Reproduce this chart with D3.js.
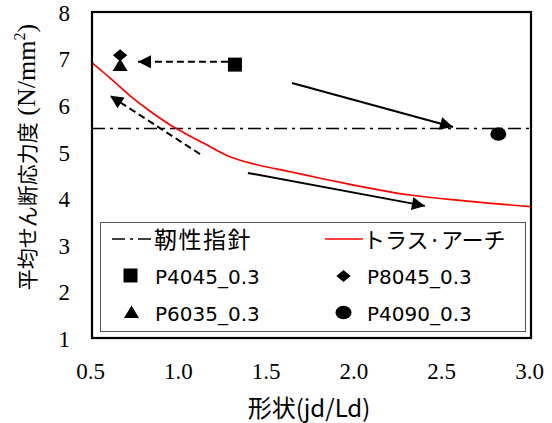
<!DOCTYPE html>
<html><head><meta charset="utf-8">
<script src="https://cdn.jsdelivr.net/npm/d3@7"></script>
<style>body{margin:0;background:#fff}svg{display:block}</style>
</head><body><svg id="c" width="552" height="423"></svg>
<script>
// ---- data ----
const xTicks = [0.5, 1.0, 1.5, 2.0, 2.5, 3.0];
const yTicks = [1, 2, 3, 4, 5, 6, 7, 8];
const trussX = [0.5, 0.603, 0.717, 0.831, 0.944, 1.018, 1.132, 1.286, 1.44, 1.628, 1.8, 1.97, 2.311, 2.636, 3.0];
const trussY = [6.91, 6.58, 6.20, 5.87, 5.58, 5.42, 5.19, 4.89, 4.72, 4.57, 4.43, 4.30, 4.07, 3.94, 3.82];
const toughness = 5.5;
const seriesNames = ["P4045_0.3", "P8045_0.3", "P6035_0.3", "P4090_0.3"];
const seriesX = [1.314, 0.66, 0.66, 2.814];
const seriesY = [6.87, 7.07, 6.86, 5.38];
const seriesShape = ["square", "diamond", "triangle", "circle"];
// arrows: from (x1,y1) to (x2,y2)
const arrowX1 = [1.274, 1.115, 1.639, 1.388];
const arrowY1 = [6.93, 4.95, 6.476, 4.545];
const arrowX2 = [0.762, 0.603, 2.556, 2.396];
const arrowY2 = [6.93, 6.2, 5.53, 3.837];
const arrowDashed = [true, true, false, false];

const svg = d3.select("#c");
const L = 92, R = 531, T = 12, B = 338;
const x = d3.scaleLinear().domain([0.5, 3.0]).range([L, R]);
const y = d3.scaleLinear().domain([1, 8]).range([B, T]);
const serif = "'Liberation Serif', 'DejaVu Serif', serif";
const lf = "'DejaVu Sans', 'Noto Sans CJK JP', sans-serif";
const jf = "'Noto Sans CJK JP', sans-serif";

const defs = svg.append("defs");
defs.append("marker").attr("id", "ah").attr("viewBox", "0 0 10 10")
  .attr("refX", 10).attr("refY", 5).attr("markerUnits", "userSpaceOnUse")
  .attr("markerWidth", 16).attr("markerHeight", 13).attr("orient", "auto")
  .append("path").attr("d", "M0,0 L10,5 L0,10 Z").attr("fill", "#000");
defs.append("clipPath").attr("id", "pc").append("rect")
  .attr("x", L).attr("y", T).attr("width", R - L).attr("height", B - T);

// axes (labels only, no tick marks)
const xAxis = d3.axisBottom(x).tickValues(xTicks).tickFormat(d3.format(".1f")).tickSize(0).tickPadding(25);
const gx = svg.append("g").attr("transform", `translate(-2,${B})`).call(xAxis);
gx.attr("font-family", serif);
gx.select(".domain").remove();
gx.selectAll("text").style("font-family", serif).style("font-size", "23px").attr("fill", "#000");

const yAxis = d3.axisLeft(y).tickValues(yTicks).tickFormat(d3.format("d")).tickSize(0).tickPadding(22);
const gy = svg.append("g").attr("transform", `translate(${L},1)`).call(yAxis);
gy.attr("font-family", serif);
gy.select(".domain").remove();
gy.selectAll("text").style("font-family", serif).style("font-size", "23px").attr("fill", "#000");

const plot = svg.append("g").attr("clip-path", "url(#pc)");
plot.append("line").attr("x1", x(0.5)).attr("x2", x(3.0)).attr("y1", y(toughness)).attr("y2", y(toughness))
  .attr("stroke", "#000").attr("stroke-width", 1.6).attr("stroke-dasharray", "13,5,3,5");

const trussData = trussX.map((d, i) => [d, trussY[i]]);
plot.append("path").datum(trussData)
  .attr("d", d3.line().x(d => x(d[0])).y(d => y(d[1])).curve(d3.curveMonotoneX))
  .attr("fill", "none").attr("stroke", "#ff0000").attr("stroke-width", 1.7);

arrowX1.forEach((d, i) => {
  svg.append("line").attr("x1", x(d)).attr("y1", y(arrowY1[i])).attr("x2", x(arrowX2[i])).attr("y2", y(arrowY2[i]))
    .attr("stroke", "#000").attr("stroke-width", 2)
    .attr("stroke-dasharray", arrowDashed[i] ? "7,4" : null)
    .attr("marker-end", "url(#ah)");
});

const shapePath = {
  square: "M-7,-7 L7,-7 L7,7 L-7,7 Z",
  diamond: "M0,-6 L7.2,0 L0,6 L-7.2,0 Z",
  triangle: "M0,-6.5 L7.5,6 L-7.5,6 Z",
  circle: "M-8,0 A8,6.8 0 1,0 8,0 A8,6.8 0 1,0 -8,0 Z"
};
function sym(g, shape, cx, cy) {
  g.append("path").attr("d", shapePath[shape]).attr("transform", `translate(${cx},${cy})`).attr("fill", "#000");
}
seriesX.forEach((d, i) => sym(svg, seriesShape[i], x(d), y(seriesY[i])));

svg.append("rect").attr("x", L).attr("y", T).attr("width", R - L).attr("height", B - T)
  .attr("fill", "none").attr("stroke", "#000").attr("stroke-width", 2.2);

// legend
const lg = svg.append("g");
lg.append("rect").attr("x", 100.5).attr("y", 222.5).attr("width", 425).attr("height", 109)
  .attr("fill", "#fff").attr("stroke", "#555").attr("stroke-width", 1);
lg.append("line").attr("x1", 112).attr("x2", 154).attr("y1", 239).attr("y2", 239)
  .attr("stroke", "#000").attr("stroke-width", 1.6).attr("stroke-dasharray", "13,5,3,5");
lg.append("text").attr("x", 154).attr("y", 247.5).text("靭性指針")
  .style("font-family", jf).style("font-size", "23px").style("letter-spacing", "1.5px");
lg.append("line").attr("x1", 325).attr("x2", 363).attr("y1", 239).attr("y2", 239)
  .attr("stroke", "#ff0000").attr("stroke-width", 1.7);
lg.append("text").attr("x", 363).attr("y", 247.5).text("トラス·アーチ")
  .style("font-family", jf).style("font-size", "22px");
const legSym = [[130.5, 275.5], [343.5, 276], [131.5, 312], [343.5, 312.5]];
const legTxt = [[155, 284], [367, 284], [155, 320.5], [367, 320.5]];
seriesNames.forEach((n, i) => {
  sym(lg, seriesShape[i], legSym[i][0], legSym[i][1]);
  lg.append("text").attr("x", legTxt[i][0]).attr("y", legTxt[i][1]).text(n)
    .style("font-family", lf).style("font-size", "20px");
});

// axis titles
svg.append("text").attr("x", 309).attr("y", 417).attr("text-anchor", "middle")
  .style("font-family", jf).style("font-size", "24px").text("形状(jd/Ld)");
const yt = svg.append("text").attr("transform", "translate(35,157) rotate(-90)").attr("text-anchor", "middle");
yt.append("tspan").style("font-family", jf).style("font-size", "21px").text("平均せん断応力度");
yt.append("tspan").style("font-family", serif).style("font-size", "26px").text(" (N/mm");
yt.append("tspan").style("font-family", serif).style("font-size", "16px").attr("dy", "-10").text("2");
yt.append("tspan").style("font-family", serif).style("font-size", "26px").attr("dy", "10").text(")");
</script></body></html>
